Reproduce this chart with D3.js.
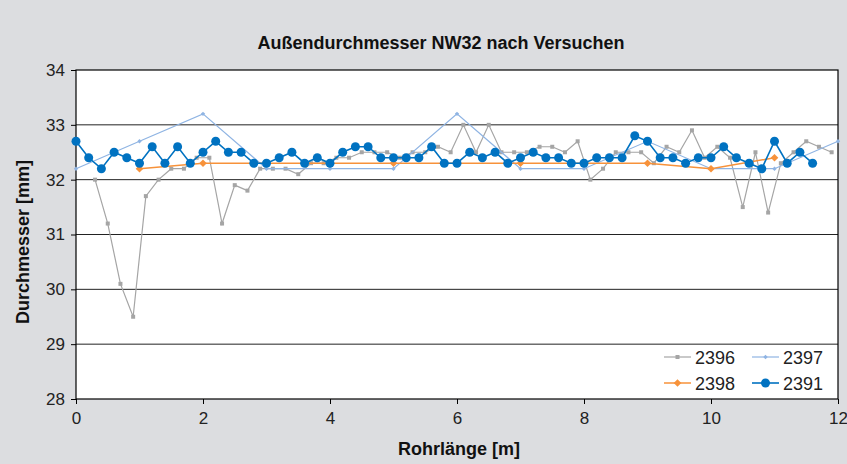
<!DOCTYPE html>
<html><head><meta charset="utf-8">
<script src="https://cdn.jsdelivr.net/npm/d3@7"></script>
<style>
html,body{margin:0;padding:0;background:#dcdde0;}
svg{display:block;font-family:"Liberation Sans",Arial,sans-serif;}
</style></head>
<body><svg id="chart" width="847" height="464"></svg>
<script>
const title = "Außendurchmesser NW32 nach Versuchen";
const xLabel = "Rohrlänge [m]";
const yLabel = "Durchmesser [mm]";
const xTicks = [0,2,4,6,8,10,12];
const yTicks = [28,29,30,31,32,33,34];

const x2396 = [0.3,0.5,0.7,0.9,1.1,1.3,1.5,1.7,1.9,2.1,2.3,2.5,2.7,2.9,3.1,3.3,3.5,3.7,3.9,4.1,4.3,4.5,4.7,4.9,5.1,5.3,5.5,5.7,5.9,6.1,6.3,6.5,6.7,6.9,7.1,7.3,7.5,7.7,7.9,8.1,8.3,8.5,8.7,8.9,9.1,9.3,9.5,9.7,9.9,10.1,10.3,10.5,10.7,10.9,11.1,11.3,11.5,11.7,11.9];
const y2396 = [32.0,31.2,30.1,29.5,31.7,32.0,32.2,32.2,32.4,32.4,31.2,31.9,31.8,32.2,32.2,32.2,32.1,32.3,32.3,32.4,32.4,32.5,32.5,32.5,32.4,32.5,32.5,32.6,32.5,33.0,32.5,33.0,32.5,32.5,32.5,32.6,32.6,32.5,32.7,32.0,32.2,32.5,32.5,32.5,32.3,32.6,32.5,32.9,32.4,32.6,32.4,31.5,32.5,31.4,32.3,32.5,32.7,32.6,32.5];

const x2397 = [0,1,2,3,4,5,6,7,8,9,10,11,12];
const y2397 = [32.2,32.7,33.2,32.2,32.2,32.2,33.2,32.2,32.2,32.7,32.2,32.2,32.7];

const x2398 = [1,2,3,4,5,6,7,8,9,10,11];
const y2398 = [32.2,32.3,32.3,32.3,32.3,32.3,32.3,32.3,32.3,32.2,32.4];

const x2391 = [0,0.2,0.4,0.6,0.8,1.0,1.2,1.4,1.6,1.8,2.0,2.2,2.4,2.6,2.8,3.0,3.2,3.4,3.6,3.8,4.0,4.2,4.4,4.6,4.8,5.0,5.2,5.4,5.6,5.8,6.0,6.2,6.4,6.6,6.8,7.0,7.2,7.4,7.6,7.8,8.0,8.2,8.4,8.6,8.8,9.0,9.2,9.4,9.6,9.8,10.0,10.2,10.4,10.6,10.8,11.0,11.2,11.4,11.6];
const y2391 = [32.7,32.4,32.2,32.5,32.4,32.3,32.6,32.3,32.6,32.3,32.5,32.7,32.5,32.5,32.3,32.3,32.4,32.5,32.3,32.4,32.3,32.5,32.6,32.6,32.4,32.4,32.4,32.4,32.6,32.3,32.3,32.5,32.4,32.5,32.3,32.4,32.5,32.4,32.4,32.3,32.3,32.4,32.4,32.4,32.8,32.7,32.4,32.4,32.3,32.4,32.4,32.6,32.4,32.3,32.2,32.7,32.3,32.5,32.3];

const seriesNames = ["2396","2397","2398","2391"];
const seriesColors = ["#a5a5a5","#8fb4e3","#f7923a","#0072c1"];

const svg = d3.select("#chart");
const L = 76, R = 838, T = 70, B = 399;
const x = d3.scaleLinear().domain([0,12]).range([L,R]);
const y = d3.scaleLinear().domain([28,34]).range([B,T]);

svg.append("rect").attr("x",L).attr("y",T).attr("width",R-L).attr("height",B-T).attr("fill","#fff");

// grid
svg.append("g").selectAll("line").data(yTicks.filter(d=>d>28&&d<34)).join("line")
  .attr("x1",L).attr("x2",R).attr("y1",d=>y(d)).attr("y2",d=>y(d))
  .attr("stroke","#222").attr("stroke-width",1);

// axes
const yAxis = svg.append("g").attr("transform",`translate(${L},0)`)
  .call(d3.axisLeft(y).tickValues(yTicks).tickSize(5).tickPadding(6).tickFormat(d3.format("d")));
const xAxis = svg.append("g").attr("transform",`translate(0,${B})`)
  .call(d3.axisBottom(x).tickValues(xTicks).tickSize(5).tickPadding(8).tickFormat(d3.format("d")));
[yAxis,xAxis].forEach(a=>{
  a.select(".domain").remove();
  a.selectAll(".tick line").attr("stroke","#000");
  a.selectAll(".tick text").attr("font-size",17).attr("fill","#222").attr("font-family","Liberation Sans, Arial, sans-serif");
});
// border
svg.append("rect").attr("x",L).attr("y",T).attr("width",R-L).attr("height",B-T)
  .attr("fill","none").attr("stroke","#000").attr("stroke-width",1.2);

const line = d3.line().x(d=>x(d[0])).y(d=>y(d[1]));
const data = [
  d3.zip(x2396,y2396), d3.zip(x2397,y2397), d3.zip(x2398,y2398), d3.zip(x2391,y2391)
];
const lw = [1.2,1.2,1.5,1.6];
const plot = svg.append("g");
function marker(g, i, px, py){
  const c = seriesColors[i];
  if(i===0) g.append("rect").attr("x",px-2).attr("y",py-2).attr("width",4).attr("height",4).attr("fill",c);
  else if(i===1) g.append("path").attr("d",`M${px},${py-2.2}L${px+2.2},${py}L${px},${py+2.2}L${px-2.2},${py}Z`).attr("fill",c);
  else if(i===2) g.append("path").attr("d",`M${px},${py-3.8}L${px+3.8},${py}L${px},${py+3.8}L${px-3.8},${py}Z`).attr("fill",c);
  else g.append("circle").attr("cx",px).attr("cy",py).attr("r",4.5).attr("fill",c);
}
data.forEach((d,i)=>{
  const g = plot.append("g");
  g.append("path").datum(d).attr("d",line).attr("fill","none").attr("stroke",seriesColors[i]).attr("stroke-width",lw[i]);
  d.forEach(p=>marker(g,i,x(p[0]),y(p[1])));
});

// legend
const lg = svg.append("g");
const legPos = [[664,357],[752,357],[664,383],[752,383]];
seriesNames.forEach((n,i)=>{
  const [lx,ly] = legPos[i];
  lg.append("line").attr("x1",lx).attr("x2",lx+27).attr("y1",ly).attr("y2",ly).attr("stroke",seriesColors[i]).attr("stroke-width",lw[i]);
  marker(lg,i,lx+13.5,ly);
  lg.append("text").attr("x",lx+31).attr("y",ly+6.5).attr("font-size",18).attr("fill","#222").text(n);
});

// titles
svg.append("text").attr("x",441).attr("y",49).attr("text-anchor","middle").attr("font-size",18).attr("font-weight","bold").attr("fill","#111").text(title);
svg.append("text").attr("x",459).attr("y",455).attr("text-anchor","middle").attr("font-size",18).attr("font-weight","bold").attr("fill","#111").text(xLabel);
svg.append("text").attr("transform","translate(29,242) rotate(-90)").attr("text-anchor","middle").attr("font-size",18).attr("font-weight","bold").attr("fill","#111").text(yLabel);
</script></body></html>
